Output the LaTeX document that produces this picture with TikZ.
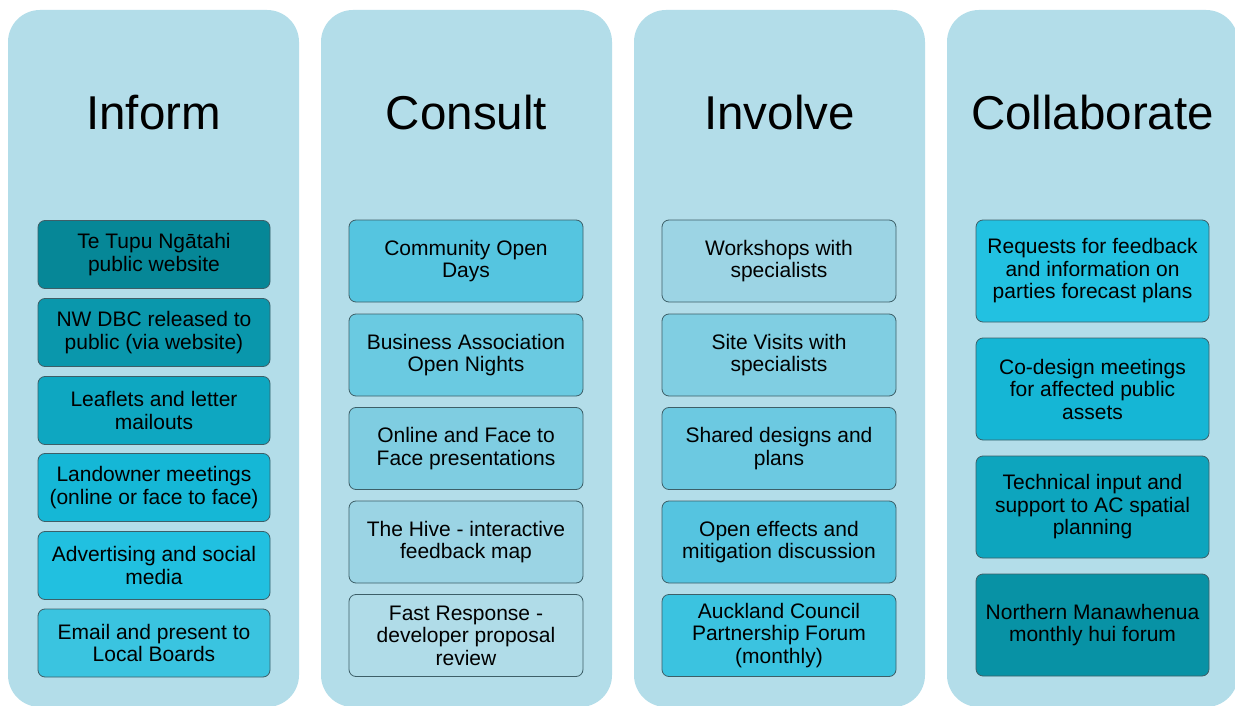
\documentclass[tikz,border=0pt]{standalone}
\usepackage{fontspec}
\setmainfont{Liberation Sans}
\definecolor{panelc}{HTML}{B3DDE9}
\definecolor{edgec}{HTML}{3D5F68}
\definecolor{ia}{HTML}{068797}
\definecolor{ib}{HTML}{0A97AC}
\definecolor{ic}{HTML}{0EA7C1}
\definecolor{id}{HTML}{15B7D6}
\definecolor{ie}{HTML}{21C0E0}
\definecolor{if}{HTML}{3AC4E0}
\definecolor{ca}{HTML}{55C5E0}
\definecolor{cb}{HTML}{6ACAE1}
\definecolor{cc}{HTML}{7FCDE1}
\definecolor{cd}{HTML}{9BD4E4}
\definecolor{ce}{HTML}{B0DCE8}
\definecolor{va}{HTML}{9CD4E4}
\definecolor{vb}{HTML}{80CEE2}
\definecolor{vc}{HTML}{6CC9E1}
\definecolor{vd}{HTML}{55C4E0}
\definecolor{ve}{HTML}{3BC3E0}
\definecolor{la}{HTML}{22C1E1}
\definecolor{lb}{HTML}{15B6D5}
\definecolor{lc}{HTML}{0DA5BE}
\definecolor{ld}{HTML}{0892A5}
\tikzset{
  panel/.style={fill=panelc, draw=none, rounded corners=32pt, minimum width=291pt, minimum height=697pt, inner sep=0pt},
  ptitle/.style={anchor=base, inner sep=0pt, font=\fontsize{47.5}{50}\selectfont},
  itembox/.style={draw=edgec, line width=0.8pt, rounded corners=7pt, align=center, inner sep=0pt,
    font=\fontsize{21}{22.5}\selectfont},
  ibox/.style={itembox, minimum width=232pt, minimum height=68pt},
  cbox/.style={itembox, minimum width=234pt, minimum height=82pt},
  lbox/.style={itembox, minimum width=233pt, minimum height=102pt}
}
\begin{document}
\begin{tikzpicture}[x=1pt, y=-1pt]
\useasboundingbox (0,0) rectangle (1235,706);
\clip (0,0) rectangle (1235,706);
\fill[white] (0,0) rectangle (1235,706);
% panels
\node[panel] (p1) at (153.5,358.5) {};
\node[panel] (p2) at (466.5,358.5) {};
\node[panel] (p3) at (779.5,358.5) {};
\node[panel] (p4) at (1092.5,358.5) {};
% titles
\node[ptitle] (t1) at (153.5,130) {Inform};
\node[ptitle] (t2) at (466.5,130) {Consult};
\node[ptitle] (t3) at (779.5,130) {Involve};
\node[ptitle] (t4) at (1092.5,130) {Collaborate};
% Inform
\node[ibox, fill=ia] (i1) at (154,254.5) {Te Tupu Ngātahi\\public website};
\node[ibox, fill=ib] (i2) at (154,332.5) {NW DBC released to\\public (via website)};
\node[ibox, fill=ic] (i3) at (154,410.5) {Leaflets and letter\\mailouts};
\node[ibox, fill=id] (i4) at (154,487.5) {Landowner meetings\\(online or face to face)};
\node[ibox, fill=ie] (i5) at (154,565.5) {Advertising and social\\media};
\node[ibox, fill=if] (i6) at (154,643) {Email and present to\\Local Boards};
% Consult
\node[cbox, fill=ca] (c1) at (466,261) {Community Open\\Days};
\node[cbox, fill=cb] (c2) at (466,355) {Business Association\\Open Nights};
\node[cbox, fill=cc] (c3) at (466,448.5) {Online and Face to\\Face presentations};
\node[cbox, fill=cd] (c4) at (466,542) {The Hive - interactive\\feedback map};
\node[cbox, fill=ce] (c5) at (466,635.5) {Fast Response -\\developer proposal\\review};
% Involve
\node[cbox, fill=va] (v1) at (779,261) {Workshops with\\specialists};
\node[cbox, fill=vb] (v2) at (779,355) {Site Visits with\\specialists};
\node[cbox, fill=vc] (v3) at (779,448.5) {Shared designs and\\plans};
\node[cbox, fill=vd] (v4) at (779,542) {Open effects and\\mitigation discussion};
\node[cbox, fill=ve] (v5) at (779,635.5) {Auckland Council\\Partnership Forum\\(monthly)};
% Collaborate
\node[lbox, fill=la] (l1) at (1092.5,271) {Requests for feedback\\and information on\\parties forecast plans};
\node[lbox, fill=lb] (l2) at (1092.5,389) {Co-design meetings\\for affected public\\assets};
\node[lbox, fill=lc] (l3) at (1092.5,507) {Technical input and\\support to AC spatial\\planning};
\node[lbox, fill=ld] (l4) at (1092.5,625) {Northern Manawhenua\\monthly hui forum};
\end{tikzpicture}
\end{document}
